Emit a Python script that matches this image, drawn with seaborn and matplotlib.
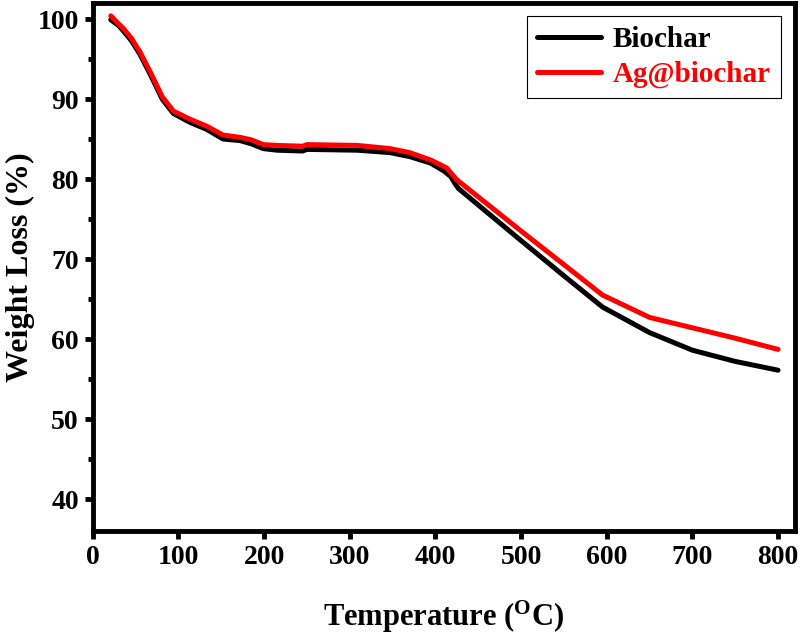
import numpy as np
import pandas as pd
import matplotlib
matplotlib.use("Agg")
import matplotlib.pyplot as plt
from matplotlib.ticker import MultipleLocator
import seaborn as sns

# ---- data ----
biochar_temp = [21, 30, 35, 45, 55, 67, 81, 94, 113, 133, 152, 172, 185, 199, 215,
                245, 250, 309, 347, 370, 394, 410, 418, 423, 427, 500, 550, 595,
                650, 700, 750, 800]
biochar_wt = [99.9, 99.2, 98.6, 97.3, 95.6, 93.1, 90.0, 88.2, 87.1, 86.2, 85.0, 84.8,
              84.4, 83.8, 83.6, 83.5, 83.7, 83.6, 83.3, 82.8, 82.0, 81.0, 80.3, 79.4,
              78.8, 72.3, 67.9, 64.0, 60.8, 58.6, 57.2, 56.1]

ag_temp = [21, 30, 35, 45, 55, 67, 81, 94, 113, 133, 152, 172, 185, 199, 215, 245,
           250, 309, 347, 370, 394, 413, 425, 500, 550, 595, 650, 700, 750, 800]
ag_wt = [100.4, 99.4, 98.9, 97.6, 95.9, 93.4, 90.3, 88.5, 87.5, 86.6, 85.5, 85.2,
         84.9, 84.3, 84.2, 84.1, 84.3, 84.2, 83.8, 83.3, 82.4, 81.4, 79.9, 73.5,
         69.3, 65.5, 62.7, 61.4, 60.1, 58.7]

series_names = ["Biochar", "Ag@biochar"]
series_colors = ["#000000", "#ff0000"]

df = pd.concat([
    pd.DataFrame({"Temperature": biochar_temp, "Weight": biochar_wt, "Sample": series_names[0]}),
    pd.DataFrame({"Temperature": ag_temp, "Weight": ag_wt, "Sample": series_names[1]}),
], ignore_index=True)

sns.set_style("ticks", {"text.color": "black", "axes.labelcolor": "black",
                        "xtick.color": "black", "ytick.color": "black",
                        "axes.edgecolor": "black"})
plt.rcParams["font.family"] = ["Liberation Serif", "DejaVu Serif"]
plt.rcParams["font.weight"] = "bold"
plt.rcParams["mathtext.default"] = "regular"

fig = plt.figure(figsize=(8, 6.41), dpi=100)
ax = fig.add_axes([0.116, 0.1716, 0.878, 0.8237])

sns.lineplot(data=df, x="Temperature", y="Weight", hue="Sample",
             palette=dict(zip(series_names, series_colors)),
             hue_order=series_names, sort=False, estimator=None,
             linewidth=3.6, solid_capstyle="round", ax=ax)

ax.set_xlim(0, 820)
ax.set_ylim(36, 102)
ax.xaxis.set_major_locator(MultipleLocator(100))
ax.yaxis.set_minor_locator(MultipleLocator(5))
ax.set_yticks([40, 50, 60, 70, 80, 90, 100])

for side in ["left", "right", "top", "bottom"]:
    ax.spines[side].set_linewidth(3.5)

ax.tick_params(axis="both", which="major", direction="out", length=6, width=3.5,
               labelsize=20, pad=4, colors="black")
ax.tick_params(axis="y", which="minor", direction="out", length=3.5, width=3.5)

for lbl in ax.get_xticklabels() + ax.get_yticklabels():
    lbl.set_fontweight("bold")

ax.set_xlabel(r"Temperature ($\mathregular{^{O}}$C)", fontsize=22, fontweight="bold",
              labelpad=21, color="black")
ax.set_ylabel("Weight Loss (%)", fontsize=23, fontweight="bold", labelpad=2, color="black")

leg = ax.legend(loc="upper right", bbox_to_anchor=(0.980, 0.975),
                frameon=True, fancybox=False, edgecolor="black", framealpha=1,
                handlelength=2.2, borderaxespad=0, labelspacing=0.25,
                handletextpad=0.4, borderpad=0.35, labelcolor="linecolor",
                prop={"weight": "bold", "size": 21})
leg.get_frame().set_linewidth(0.8)
for line in leg.get_lines():
    line.set_linewidth(3.6)
    line.set_solid_capstyle("round")

fig.savefig("out.png", dpi=100)
